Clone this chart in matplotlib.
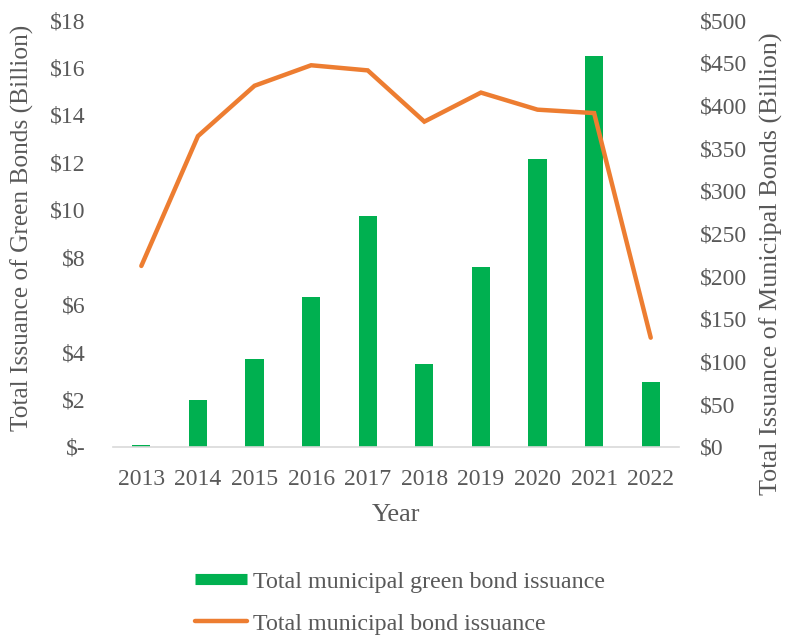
import matplotlib.pyplot as plt
from matplotlib.lines import Line2D
from matplotlib.ticker import FuncFormatter, MultipleLocator

# municipal bond issuance by year, billions of dollars
years = ['2013', '2014', '2015', '2016', '2017', '2018', '2019', '2020', '2021', '2022']
green_bonds = [0.1, 2.0, 3.71, 6.34, 9.74, 3.5, 7.58, 12.15, 16.5, 2.74]
all_bonds = [212, 364, 423, 447, 441, 381, 415, 395, 391, 128]

GREEN = '#00B050'
ORANGE = '#ED7D31'
TEXT = '#595959'

plt.rcParams['font.family'] = ['Liberation Serif', 'DejaVu Serif']
plt.rcParams['text.color'] = TEXT
plt.rcParams['axes.labelcolor'] = TEXT
plt.rcParams['xtick.color'] = TEXT
plt.rcParams['ytick.color'] = TEXT

fig = plt.figure(figsize=(7.86, 6.37), dpi=100)
ax = fig.add_axes([0.1438, 0.2983, 0.7201, 0.6703])
ax2 = ax.twinx()

x = range(len(years))
ax.bar(x, green_bonds, width=0.32, color=GREEN, zorder=2)
ax2.plot(x, all_bonds, color=ORANGE, linewidth=3.2, solid_capstyle='round',
         solid_joinstyle='miter', zorder=3)

ax.set_xlim(-0.5, len(years) - 0.5)
ax.set_ylim(0, 18)
ax2.set_ylim(0, 500)
ax.yaxis.set_major_locator(MultipleLocator(2))
ax2.yaxis.set_major_locator(MultipleLocator(50))
ax.yaxis.set_major_formatter(FuncFormatter(lambda v, p: '$-' if v == 0 else f'${v:.0f}'))
ax2.yaxis.set_major_formatter(FuncFormatter(lambda v, p: f'${v:.0f}'))

ax.set_xticks(list(x))
ax.set_xticklabels(years)

for a in (ax, ax2):
    for s in a.spines.values():
        s.set_visible(False)
    a.tick_params(length=0, labelsize=17)
ax.spines['bottom'].set_visible(True)
ax.spines['bottom'].set_color('#D9D9D9')
ax.spines['bottom'].set_linewidth(1.2)
ax.tick_params(axis='y', pad=20)
ax.tick_params(axis='x', pad=16)
ax2.tick_params(axis='y', pad=15)

ax.set_xlabel('Year', fontsize=19, va='center')
ax.xaxis.set_label_coords(0.5, -0.16)
ax.set_ylabel('Total Issuance of Green Bonds (Billion)', fontsize=18.3, va='center')
ax.yaxis.set_label_coords(-0.161, 0.513)
ax2.set_ylabel('Total Issuance of Municipal Bonds (Billion)', fontsize=18.8,
               rotation=90, va='center')
ax2.yaxis.set_label_coords(1.163, 0.429)

handles = [
    Line2D([0], [0], color=GREEN, linewidth=8, solid_capstyle='butt'),
    Line2D([0], [0], color=ORANGE, linewidth=3.2, solid_capstyle='round'),
]
labels = ['Total municipal green bond issuance', 'Total municipal bond issuance']
fig.legend(handles, labels, loc='upper left', bbox_to_anchor=(0.248, 0.1036),
           bbox_transform=fig.transFigure, frameon=False, fontsize=17.3,
           handlelength=2.17, handletextpad=0.25, labelspacing=0.83,
           borderaxespad=0, borderpad=0)

fig.savefig('out.png', dpi=100)
